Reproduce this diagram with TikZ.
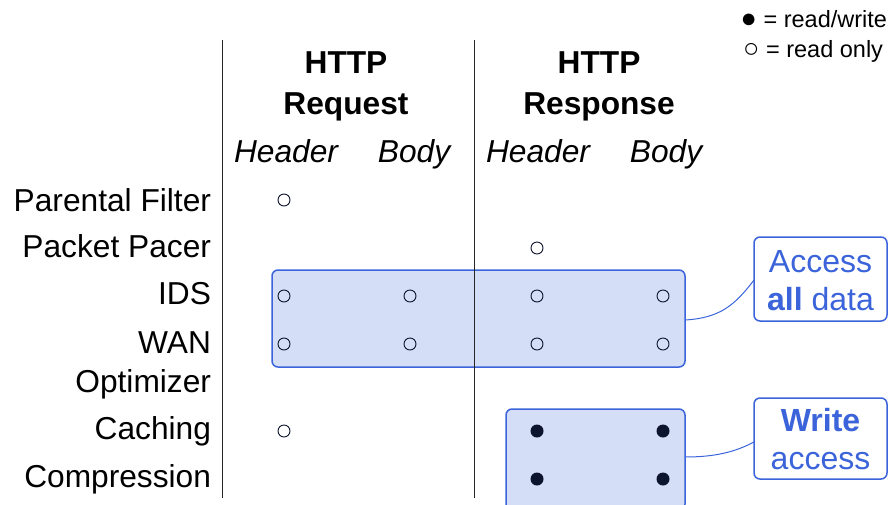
\documentclass[tikz,border=0pt]{standalone}
\usepackage{fontspec}
\setmainfont{Liberation Sans}
\begin{document}
\begin{tikzpicture}[x=1pt,y=-1pt,
  every node/.style={inner sep=0pt,outer sep=0pt},
  big/.style={font=\fontsize{31.7}{36}\selectfont},
  rowlabel/.style={big,anchor=base east},
  colhead/.style={font=\fontsize{31.7}{36}\selectfont\bfseries,anchor=base},
  colsub/.style={font=\fontsize{31.7}{36}\selectfont\itshape,anchor=base},
  legend/.style={font=\fontsize{23.5}{26}\selectfont,anchor=base east},
  ro/.style={circle,draw=mydark,line width=0.9pt,minimum size=12pt},
  rw/.style={circle,fill=mydark,minimum size=13pt},
  group/.style={draw=myblue,fill=myfill,line width=1.5pt,rounded corners=6pt},
  callout/.style={draw=myblue,fill=white,line width=1.5pt,rounded corners=6pt,
    text=myblue,align=center,font=\fontsize{32}{38}\selectfont},
  link/.style={draw=myblue,line width=1pt}]
\definecolor{myblue}{RGB}{59,100,219}
\definecolor{myfill}{RGB}{212,222,246}
\definecolor{mydark}{RGB}{13,20,45}

\useasboundingbox (0,0) rectangle (891,504);

% legend
\node[legend] (lg1) at (887,27) {{\fontsize{27}{26}\selectfont●} = read/write};
\node[legend] (lg2) at (883,57) {{\fontsize{27}{26}\selectfont○} = read only};

% highlighted groups (behind the grid)
\draw[group] (272,270) rectangle (685,367);
\node (grpall) at (478.5,318.5) [minimum width=413pt,minimum height=97pt] {};
\draw[group] (506,409) rectangle (685,510);
\node (grpwrite) at (595.5,459.5) [minimum width=179pt,minimum height=101pt] {};

% column separators
\draw[line width=1pt,black!85] (222.5,40) -- (222.5,498);
\draw[line width=1pt,black!85] (474,40) -- (474,498);

% column headings
\node[colhead] (req1) at (346,73) {HTTP};
\node[colhead] (req2) at (346,114) {Request};
\node[colhead] (rsp1) at (599,73) {HTTP};
\node[colhead] (rsp2) at (599,114) {Response};
\node[colsub] (rqh) at (286,162) {Header};
\node[colsub] (rqb) at (414,162) {Body};
\node[colsub] (rsh) at (538,162) {Header};
\node[colsub] (rsb) at (666,162) {Body};

% row labels
\node[rowlabel] (pf) at (211,211) {Parental Filter};
\node[rowlabel] (pp) at (211,257) {Packet Pacer};
\node[rowlabel] (ids) at (211,304) {IDS};
\node[rowlabel] (wan) at (211,353) {WAN};
\node[rowlabel] (opt) at (211,392) {Optimizer};
\node[rowlabel] (cach) at (211,439) {Caching};
\node[rowlabel] (comp) at (211,487) {Compression};

% read-only marks
\node[ro] (pf1) at (284,200) {};
\node[ro] (pp3) at (537,248) {};
\node[ro] (ids1) at (284,296) {};
\node[ro] (ids2) at (410,296) {};
\node[ro] (ids3) at (537,296) {};
\node[ro] (ids4) at (663,296) {};
\node[ro] (wan1) at (284,344) {};
\node[ro] (wan2) at (410,344) {};
\node[ro] (wan3) at (537,344) {};
\node[ro] (wan4) at (663,344) {};
\node[ro] (ca1) at (284,431) {};

% read/write marks
\node[rw] (ca3) at (537,431) {};
\node[rw] (ca4) at (663,431) {};
\node[rw] (co3) at (537,479) {};
\node[rw] (co4) at (663,479) {};

% callouts (frames drawn as nodes, text set slightly lower inside)
\node[callout,minimum width=133pt,minimum height=84pt] (allbox) at (820.5,279) {};
\node[text=myblue,align=center,font=\fontsize{32}{38}\selectfont] (alltext) at (820.5,281)
  {Access\\\textbf{all} data};
\node[callout,minimum width=133pt,minimum height=81pt] (wrbox) at (820.5,438.5) {};
\node[text=myblue,align=center,font=\fontsize{32}{38}\selectfont] (wrtext) at (820.5,439.5)
  {\textbf{Write}\\access};

\draw[link] (grpall.east |- 0,320) .. controls (720,318) and (735,305) .. (allbox.west |- 0,280);
\draw[link] (grpwrite.east |- 0,457) .. controls (715,457) and (735,452) .. (wrbox.west |- 0,442);
\end{tikzpicture}
\end{document}
